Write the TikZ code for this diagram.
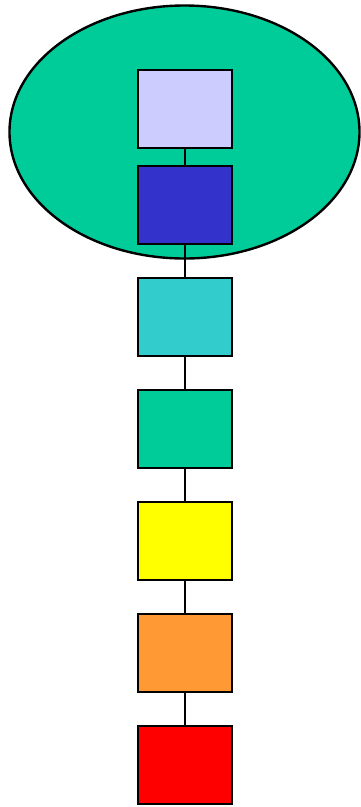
\documentclass[tikz,border=0pt]{standalone}
\usetikzlibrary{shapes.geometric}
\definecolor{c1}{HTML}{CCCCFF}
\definecolor{c2}{HTML}{3333CC}
\definecolor{c3}{HTML}{33CCCC}
\definecolor{c4}{HTML}{00CC99}
\definecolor{c5}{HTML}{FFFF00}
\definecolor{c6}{HTML}{FF9933}
\definecolor{c7}{HTML}{FF0000}
\begin{document}
\begin{tikzpicture}[x=1pt,y=-1pt,
  stepbox/.style={draw=black,line width=2.8pt,minimum width=94pt,minimum height=78pt,inner sep=0pt,outer sep=0pt},
  link/.style={draw=black,line width=2.8pt}]
\useasboundingbox (0,0) rectangle (360,807);
\node[ellipse,draw=black,line width=2.4pt,fill=c4,minimum width=350pt,minimum height=253pt,inner sep=0pt] (grp) at (184.5,132) {};
\node[stepbox,fill=c1] (b1) at (185,109) {};
\node[stepbox,fill=c2] (b2) at (185,205) {};
\node[stepbox,fill=c3] (b3) at (185,317) {};
\node[stepbox,fill=c4] (b4) at (185,429) {};
\node[stepbox,fill=c5] (b5) at (185,541) {};
\node[stepbox,fill=c6] (b6) at (185,653) {};
\node[stepbox,fill=c7] (b7) at (185,765) {};
\draw[link] (b1) -- (b2);
\draw[link] (b2) -- (b3);
\draw[link] (b3) -- (b4);
\draw[link] (b4) -- (b5);
\draw[link] (b5) -- (b6);
\draw[link] (b6) -- (b7);
\end{tikzpicture}
\end{document}
